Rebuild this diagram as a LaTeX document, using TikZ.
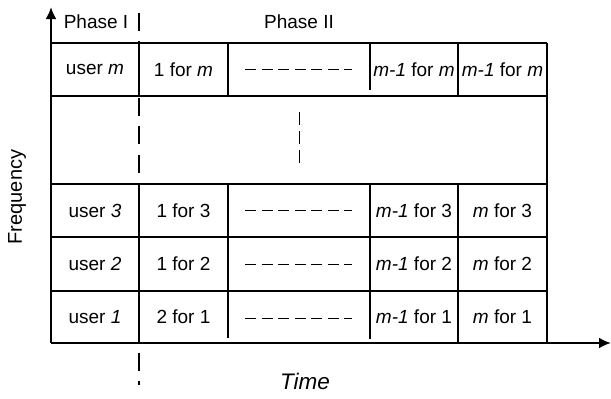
\documentclass[tikz,border=0pt]{standalone}
\usepackage{fontspec}
\setmainfont{Liberation Sans}
\usetikzlibrary{arrows.meta}

\begin{document}
\begin{tikzpicture}[x=1pt, y=-1pt, font=\fontsize{19}{22}\selectfont,
    grid/.style={line width=1.3pt},
    axis/.style={line width=2.4pt, -{Latex[length=12pt,width=11pt]}},
    phase/.style={line width=2.2pt, dash pattern=on 18pt off 10.3pt},
    gap/.style={line width=1pt, dash pattern=on 11pt off 5.5pt},
    gapv/.style={line width=1pt, dash pattern=on 13pt off 6pt}]

    \useasboundingbox (0,0) rectangle (611,399);

    % table lines
    \foreach \y in {43,96,184,237,291}
        \draw[grid] (51,\y) -- (547,\y);
    \draw[grid] (547,43) -- (547,343);
    \draw[grid] (139,43) -- (139,96);
    \draw[grid] (139,184) -- (139,343);
    \draw[grid] (228,43) -- (228,96);
    \draw[grid] (228,184) -- (228,338);
    \draw[grid] (370,43) -- (370,90);
    \draw[grid] (370,184) -- (370,339);
    \draw[grid] (458,43) -- (458,96);
    \draw[grid] (458,184) -- (458,343);

    % axes
    \coordinate (o) at (51,343);
    \coordinate (ytip) at (51,7);
    \coordinate (xtip) at (611,343);
    \draw[axis] (o) -- (ytip);
    \draw[axis] (o) -- (xtip);

    % phase border
    \coordinate (p1) at (139,13);
    \coordinate (p2) at (139,385);
    \draw[phase] (p1) -- (p2);

    \node (ph1) at (96,22) {Phase I};
    \node (ph2) at (299,22) {Phase II};
    \node[rotate=90, font=\fontsize{20}{22}\selectfont] (freq) at (17,197) {Frequency};
    \node[font=\fontsize{22.5}{24}\selectfont] (time) at (305,381) {\textit{Time}};

    % row m
    \node (um) at (95,69.5) {user \textit{m}};
    \node (c1m) at (183.5,69.5) {1 for \textit{m}};
    \node (c3m) at (414,69.5) {\textit{m-1} for \textit{m}};
    \node (c4m) at (502.5,69.5) {\textit{m-1} for \textit{m}};

    % row 3
    \node (u3) at (95,210.5) {user \textit{3}};
    \node (c13) at (183.5,210.5) {1 for 3};
    \node (c33) at (414,210.5) {\textit{m-1} for 3};
    \node (c43) at (502.5,210.5) {\textit{m} for 3};

    % row 2
    \node (u2) at (95,264) {user \textit{2}};
    \node (c12) at (183.5,264) {1 for 2};
    \node (c32) at (414,264) {\textit{m-1} for 2};
    \node (c42) at (502.5,264) {\textit{m} for 2};

    % row 1
    \node (u1) at (95,317) {user \textit{1}};
    \node (c11) at (183.5,317) {2 for 1};
    \node (c31) at (414,317) {\textit{m-1} for 1};
    \node (c41) at (502.5,317) {\textit{m} for 1};

    % skipped slots and users
    \foreach \y in {69,210,264,318}
        \draw[gap] (245,\y) -- (352,\y);
    \draw[gapv] (299,112) -- (299,168);

\end{tikzpicture}
\end{document}
